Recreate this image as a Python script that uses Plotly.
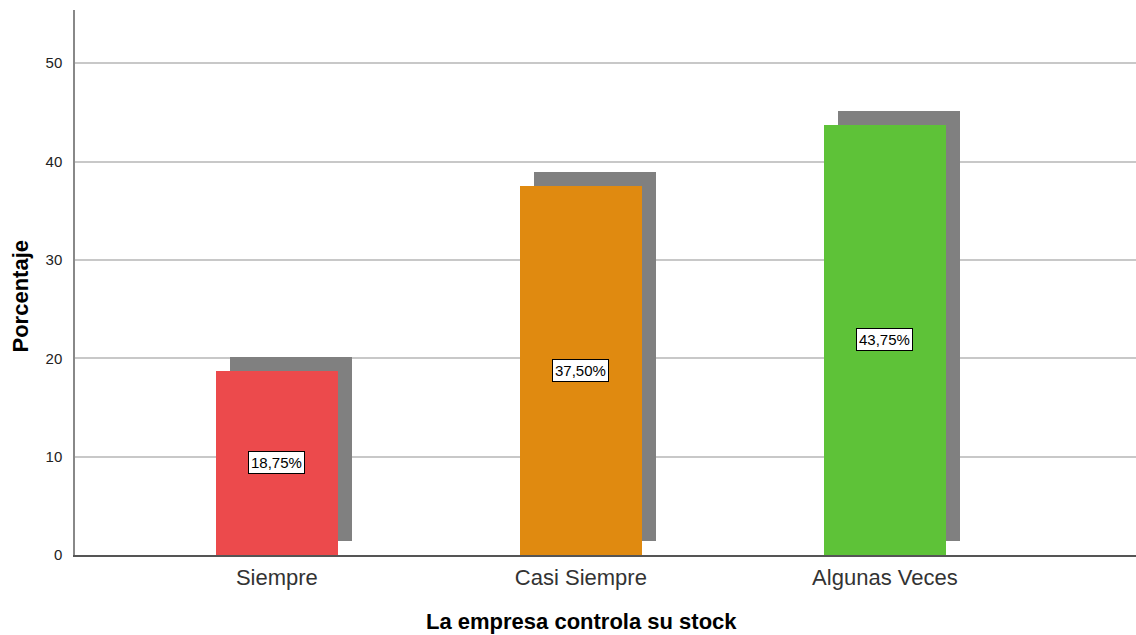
import plotly.graph_objects as go

categorias = ["Siempre", "Casi Siempre", "Algunas Veces"]
porcentajes = [18.75, 37.50, 43.75]
colores = ["#EC4A4C", "#E08A10", "#5EC238"]
etiquetas = ["18,75%", "37,50%", "43,75%"]
posiciones = [0, 1, 2]

# desplazamiento de la sombra (px -> unidades)
dx = 0.046
dy = 1.42

fig = go.Figure()

# sombra gris
fig.add_trace(go.Bar(
    x=[p + dx for p in posiciones], y=porcentajes, base=[dy] * 3,
    width=0.4, marker=dict(color="#808080", line_width=0),
    hoverinfo="skip", showlegend=False,
))

fig.add_trace(go.Bar(
    x=posiciones, y=porcentajes, width=0.4,
    marker=dict(color=colores, line_width=0),
    showlegend=False,
))

for p, v, t in zip(posiciones, porcentajes, etiquetas):
    fig.add_annotation(
        x=p, y=v / 2, text=t, showarrow=False,
        font=dict(family="Liberation Sans, Arial", size=15, color="#000"),
        bgcolor="white", bordercolor="black", borderwidth=1, borderpad=2,
    )

fig.add_annotation(
    x=0, y=0.5, xref="paper", yref="paper", xanchor="center", yanchor="middle",
    xshift=-55, yshift=-14, text="<b>Porcentaje</b>", textangle=-90, showarrow=False,
    font=dict(family="Liberation Sans, Arial", size=22, color="#000"),
)
fig.add_annotation(
    x=0.5, y=0, xref="paper", yref="paper", xanchor="center", yanchor="middle",
    xshift=-24, yshift=-66, text="<b>La empresa controla su stock</b>", showarrow=False,
    font=dict(family="Liberation Sans, Arial", size=22, color="#000"),
)

fig.update_layout(
    width=1136, height=635,
    margin=dict(l=75, r=0, t=10, b=80),
    paper_bgcolor="white", plot_bgcolor="white",
    barmode="overlay", bargap=0,
    font=dict(family="Liberation Sans, Arial"),
)
fig.update_xaxes(
    range=[-0.664, 2.826], tickvals=posiciones, ticktext=categorias,
    tickfont=dict(size=22, color="#333"), showgrid=False,
    showline=True, linecolor="#555", linewidth=1.5, ticks="", ticklabelstandoff=2,
    zeroline=False,
)
fig.update_yaxes(
    range=[0, 55.4], tickvals=[0, 10, 20, 30, 40, 50],
    tickfont=dict(size=15, color="#222"), showgrid=True, gridcolor="#C8C8C8",
    gridwidth=1.5, showline=True, linecolor="#888", linewidth=1.5,
    ticks="", ticklabelstandoff=8, zeroline=False,
)

# quitar el margen por defecto del body para que la figura llene la ventana
fig.write_html(
    "out.html",
    config={"displayModeBar": False},
    post_script="document.body.style.margin='0';document.body.style.overflow='hidden';",
)
